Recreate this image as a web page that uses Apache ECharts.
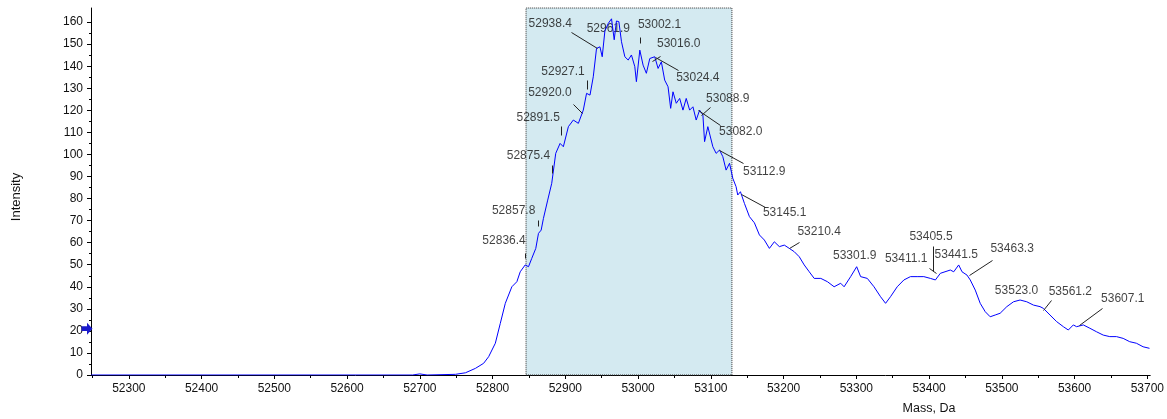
<!DOCTYPE html>
<html>
<head>
<meta charset="utf-8">
<script src="https://cdn.jsdelivr.net/npm/echarts@6/dist/echarts.min.js"></script>
<style>
  html, body { margin: 0; padding: 0; background: #fff; }
  #chart { width: 1167px; height: 419px; }
</style>
</head>
<body>
<div id="chart"></div>
<script>
// reconstructed spectrum (mass in Da, intensity)
const massDa = [52248, 52690, 52700, 52710, 52749, 52762.7, 52776.4, 52787.7, 52794.6, 52803.8,
  52810.6, 52817.5, 52826.5, 52833.4, 52838, 52844.8, 52849.4, 52853.9, 52859.4, 52863.1,
  52866.8, 52869.9, 52875.8, 52881.3, 52883.6, 52886.8, 52892.8, 52897.3, 52904.2, 52911,
  52917.9, 52924.7, 52929.2, 52933.9, 52938.4, 52942.9, 52947.6, 52950.7, 52954.4, 52959,
  52963.5, 52967.2, 52970.3, 52973.6, 52977.2, 52981.8, 52986.4, 52990.9, 52995.5, 52997.7,
  53002.4, 53006.9, 53011.4, 53016.1, 53022.9, 53027.5, 53032, 53036.6, 53041.2, 53044.8,
  53048, 53052.5, 53057.2, 53061.7, 53066.2, 53070.9, 53075.4, 53079.9, 53084.6, 53089.1,
  53091.4, 53095.9, 53102.8, 53107.3, 53112, 53116.5, 53121, 53125.7, 53127.9, 53130.2,
  53134.7, 53137, 53140.7, 53146.2, 53153.1, 53159.9, 53166.8, 53173.6, 53180.5, 53187.3,
  53194.2, 53201, 53207.9, 53214.7, 53221.6, 53228.4, 53235.3, 53242.1, 53251.2, 53260.3,
  53269.5, 53278.5, 53283.2, 53292.2, 53300.5, 53305.9, 53315.1, 53324.3, 53333.3, 53340.2,
  53347, 53356.2, 53365.4, 53374.4, 53383.6, 53392.8, 53401.8, 53408.7, 53415.5, 53429.2,
  53433.9, 53440.7, 53445.3, 53452.1, 53456.6, 53463.5, 53470.3, 53477.2, 53484, 53490.9,
  53497.7, 53506.9, 53516.1, 53525.1, 53534.3, 53543.5, 53552.5, 53557.2, 53566.2, 53575.4,
  53584.6, 53591.4, 53598.3, 53602.8, 53612, 53621, 53630.2, 53639.4, 53648.4, 53657.6,
  53666.8, 53675.8, 53685, 53694.2, 53703];
const intensity = [0, 0, 0.5, 0, 0.3, 1.0, 3.0, 5.3, 8.3, 14.4,
  23.4, 32.5, 40, 42.3, 46.8, 49.9, 49.1, 52.9, 57.4, 64.2,
  65.7, 71.0, 79.3, 86.9, 87.6, 100.5, 105.0, 103.5, 112.6, 115.6,
  114.1, 120.1, 127.7, 126.9, 135.2, 148.1, 148.8, 144.3, 156, 159.4,
  161.5, 152, 160.5, 160.2, 151.1, 144.3, 142.8, 145.1, 139.8, 133,
  147.3, 140.5, 136.8, 143.5, 144.3, 139, 142, 133.7, 130.7, 120.9,
  128.4, 123.2, 125.4, 120.1, 125.4, 120.1, 121.6, 115.6, 120.1, 117.9,
  105.8, 112.6, 103.5, 100.5, 102, 99, 92.9, 96, 96.7, 89.2,
  85.4, 81.6, 83.1, 77.8, 71.8, 69, 63.5, 61.2, 57.4, 60.4,
  58.2, 58.9, 57.4, 55.9, 53.6, 49.9, 46.8, 43.8, 43.8, 42.3,
  40, 41.6, 40, 44.6, 49.1, 44.6, 43.8, 40, 35.5, 32.5,
  35.5, 40, 43.1, 44.6, 44.6, 44.6, 43.8, 43.1, 46.1, 47.6,
  46.8, 49.9, 46.8, 45.3, 43.1, 38.5, 32.5, 28.7, 26.4, 27.2,
  28, 31, 33.2, 34, 33.2, 31.7, 31, 30.2, 27.2, 24.2,
  21.9, 20.4, 22.7, 21.9, 22.7, 21.2, 19.6, 18.1, 17.4, 17.4,
  16.6, 15.1, 14.4, 12.8, 12.1];

// labelled peaks
const peakMasses = [52836.4, 52857.8, 52875.4, 52891.5, 52920.0, 52927.1, 52938.4, 52961.9,
  53002.1, 53016.0, 53024.4, 53088.9, 53082.0, 53112.9, 53145.1, 53210.4, 53301.9,
  53411.1, 53405.5, 53441.5, 53463.3, 53523.0, 53561.2, 53607.1];

const massTicks = [52300, 52400, 52500, 52600, 52700, 52800, 52900, 53000, 53100, 53200,
  53300, 53400, 53500, 53600, 53700];
const intensityTicks = [0, 10, 20, 30, 40, 50, 60, 70, 80, 90, 100, 110, 120, 130, 140, 150, 160];

const selection = [52846, 53129];   // shaded region
const thresholdLevel = 21;

// label placement: px offset of the label centre from the peak point
const peakLabelOffsets = [[-15, -31], [-21, -38], [-19, -44], [-21, -26], [-30, -17], [-22, -22],
  [-43, -25], [-2, 10], [20, -25], [29, -15], [42, 21], [25, -11], [43, 22], [44, 22], [41, 21],
  [28, -17], [-3, -11], [-31, -15], [-2, -42], [-3, -10], [37, -41], [-2, -9], [24, -17], [43, -26]];
// leader segment ends, px offsets from the peak point (null = no leader)
const peakLeaders = [
  [[6, -19], [6, -14]], [[3, -28], [3, -22]], [[5, -35], [5, -27]], [[2, -17], [2, -8]],
  [[-7, -6], [2, 3]], [[2, -13], [2, -4]], [[-22, -16], [4, 0]], null,
  [[0, -13], [0, -7]], [[2, 2], [10, -3]], [[-1, 0], [22, 13]], [[-2, 5], [7, -3]],
  [[0, 0], [22, 15]], [[-1, 0], [23, 13]], [[-3, 2], [21, 15]], [[-2, 0], [8, -6]],
  null, [[-8, -5], [-1, 0]], [[0, -32], [0, -7]], null,
  [[-6, -15], [17, -30]], null, [[-3, 2], [5, -8]], [[-1, 0], [22, -17]]];

const xMin = 52248, xMax = 53704;
const yMax = 166.4;

const spectrum = massDa.map((m, i) => [m, intensity[i]]);
const minorMassTicks = massTicks.map(t => t - 50);
const minorIntensityTicks = intensityTicks.slice(1).map(t => t - 5);

// peak height = local max of the trace near the labelled mass
function peakHeight(m) {
  let best = 0;
  massDa.forEach((x, i) => { if (Math.abs(x - m) <= 5 && intensity[i] > best) best = intensity[i]; });
  return best;
}
const peakPoints = peakMasses.map(m => [m, peakHeight(m)]);

const font = 'Arial, "Liberation Sans", sans-serif';
const textColor = '#111';
const axisNames = [
  { id: 'yname', type: 'text', x: 16, y: 197, rotation: Math.PI / 2,
    style: { text: 'Intensity', fill: textColor, font: '13px ' + font, align: 'center', verticalAlign: 'middle' } },
  { id: 'xname', type: 'text', x: 929, y: 409,
    style: { text: 'Mass, Da', fill: textColor, font: '12.5px ' + font, align: 'center', verticalAlign: 'middle' } }
];

const chart = echarts.init(document.getElementById('chart'));
chart.setOption({
  animation: false,
  grid: { left: 91, right: 14, top: 8, bottom: 44 },
  xAxis: [{
    type: 'value', min: xMin, max: xMax, position: 'bottom',
    axisLine: { lineStyle: { color: '#000', width: 1 } },
    axisTick: { customValues: massTicks, length: 4, lineStyle: { color: '#000' } },
    axisLabel: { customValues: massTicks, margin: 8, color: textColor, fontSize: 12, fontFamily: font,
      formatter: v => String(v) },
    splitLine: { show: false }
  }, {
    type: 'value', min: xMin, max: xMax, position: 'bottom',
    axisLine: { show: false },
    axisTick: { customValues: minorMassTicks, length: 3, lineStyle: { color: '#000' } },
    axisLabel: { show: false },
    splitLine: { show: false }
  }],
  yAxis: [{
    type: 'value', min: 0, max: yMax, position: 'left',
    axisLine: { show: true, lineStyle: { color: '#000', width: 1 } },
    axisTick: { show: true, customValues: intensityTicks, length: 4, lineStyle: { color: '#000' } },
    axisLabel: { customValues: intensityTicks, margin: 8, color: textColor, fontSize: 12, fontFamily: font },
    splitLine: { show: false }
  }, {
    type: 'value', min: 0, max: yMax, position: 'left',
    axisLine: { show: false },
    axisTick: { show: true, customValues: minorIntensityTicks, length: 2, lineStyle: { color: '#000' } },
    axisLabel: { show: false },
    splitLine: { show: false }
  }],
  graphic: axisNames,
  series: [{
    name: 'spectrum', type: 'line', z: 3,
    data: spectrum, showSymbol: false, symbol: 'none',
    lineStyle: { color: '#0000ff', width: 1 },
    markArea: {
      silent: true,
      itemStyle: { color: '#d4eaf1', borderColor: '#333', borderWidth: 1, borderType: [1, 1] },
      data: [[{ xAxis: selection[0] }, { xAxis: selection[1] }]]
    },
    markPoint: {
      silent: true,
      symbol: 'path://M0,3 L5,3 L5,0 L10,5 L5,10 L5,7 L0,7 Z',
      symbolSize: [11, 12], symbolOffset: [-4, 0],
      itemStyle: { color: '#1a1acc' },
      label: { show: false },
      data: [{ coord: [xMin, thresholdLevel] }]
    }
  }, {
    name: 'peaks', type: 'scatter', z: 2,
    data: peakPoints,
    symbolSize: 1,
    itemStyle: { color: 'rgba(0,0,0,0)' },
    label: {
      show: true, position: 'inside', color: textColor, fontSize: 12, fontFamily: font,
      formatter: p => p.value[0].toFixed(1)
    },
    labelLayout: p => ({ dx: peakLabelOffsets[p.dataIndex][0], dy: peakLabelOffsets[p.dataIndex][1] })
  }]
});

// leader lines, anchored at the peaks through the chart's own scales
const leaders = [];
peakPoints.forEach((pt, i) => {
  const seg = peakLeaders[i];
  if (!seg) return;
  const [px, py] = chart.convertToPixel({ seriesIndex: 1 }, pt);
  const snap = v => Math.round(v) + 0.5;
  leaders.push({
    id: 'leader' + i, type: 'line', silent: true, z: 5,
    shape: { x1: snap(px + seg[0][0]), y1: snap(py + seg[0][1]), x2: snap(px + seg[1][0]), y2: snap(py + seg[1][1]) },
    style: { stroke: '#222', lineWidth: 1 }
  });
});
chart.setOption({ graphic: axisNames.concat(leaders) });
</script>
</body>
</html>
